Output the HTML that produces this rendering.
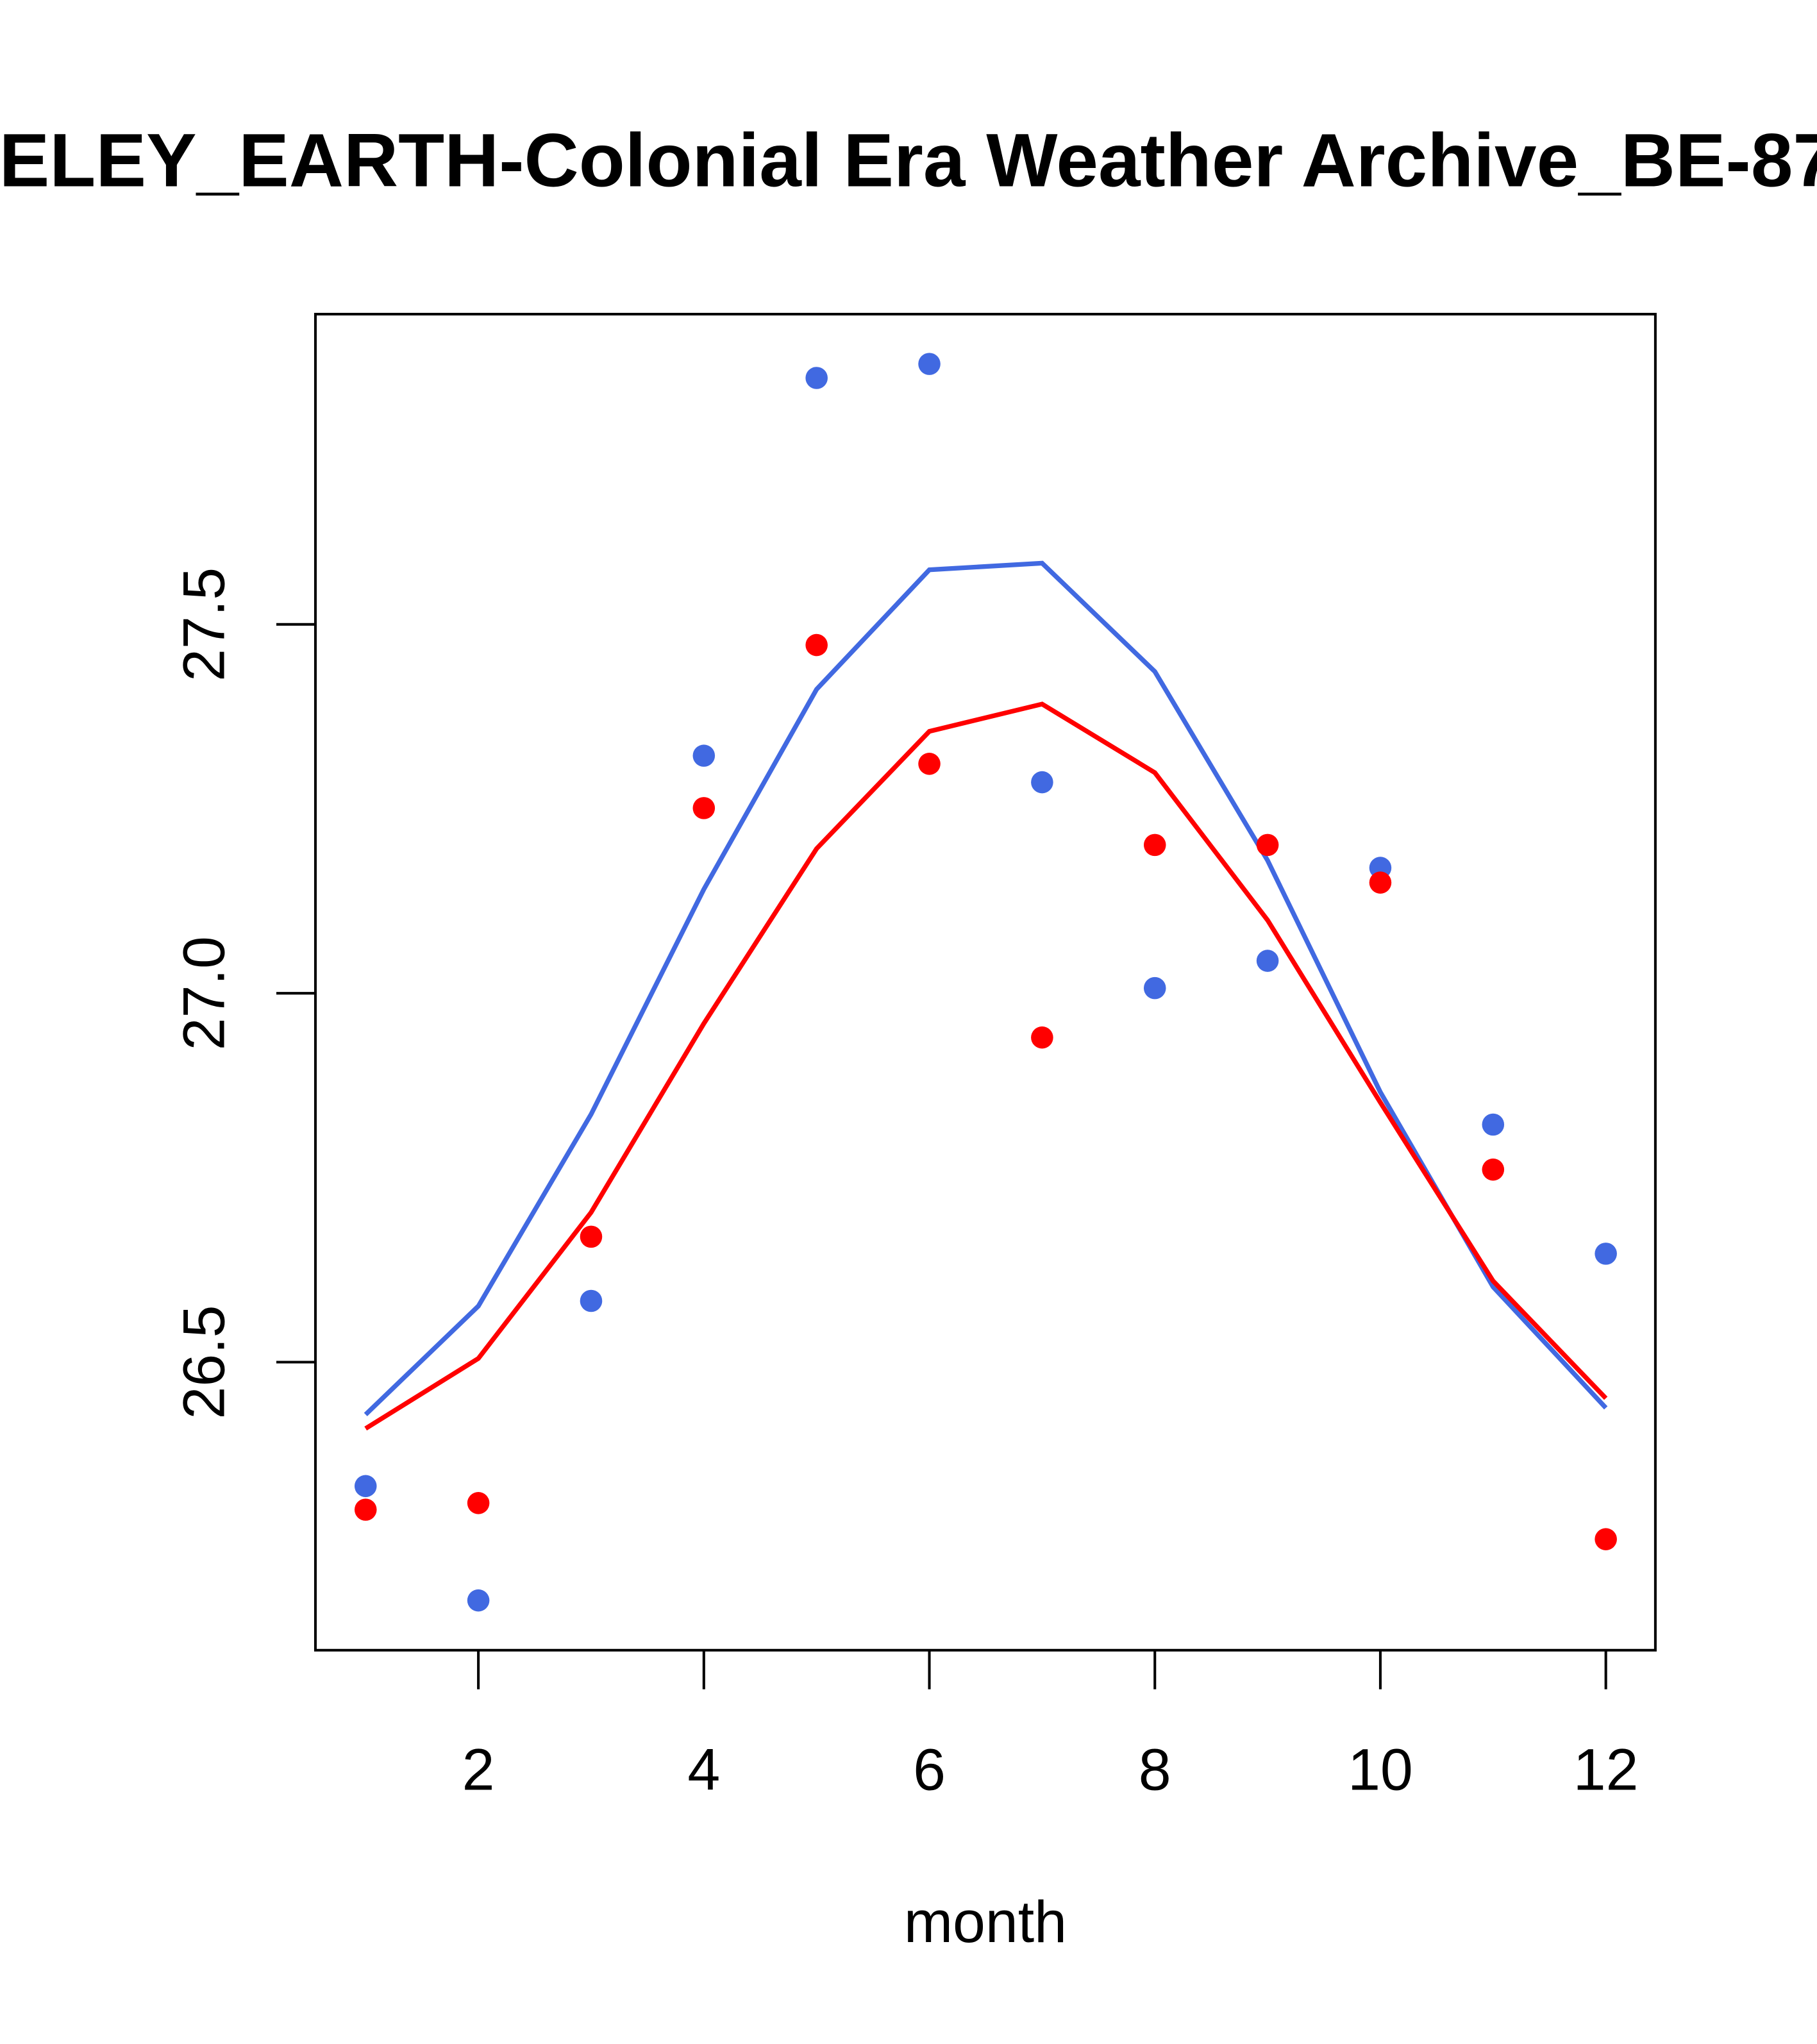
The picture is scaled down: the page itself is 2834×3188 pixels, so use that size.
<!DOCTYPE html>
<html><head><meta charset="utf-8"><style>html,body{margin:0;padding:0;background:#fff}svg{display:block}</style></head>
<body>
<svg width="2834" height="3188" viewBox="0 0 1394 1568.1" xmlns="http://www.w3.org/2000/svg" font-family="Liberation Sans, sans-serif">
<rect width="1394" height="1568.1" fill="#fff"/>
<text x="-165" y="143" text-anchor="start" font-size="58" font-weight="bold">BERKELEY_EARTH-Colonial Era Weather Archive_BE-8765</text>
<rect x="242" y="241" width="1028" height="1025" fill="none" stroke="#000" stroke-width="2"/>
<g id="axes"></g>
<g id="marks"></g>
<text x="756" y="1490" text-anchor="middle" font-size="45">month</text>
<script>
const months=[1,2,3,4,5,6,7,8,9,10,11,12];
const bluePoints=[26.332,26.177,26.583,27.322,27.834,27.853,27.286,27.007,27.044,27.170,26.822,26.647];
const redPoints=[26.300,26.309,26.670,27.251,27.472,27.311,26.940,27.201,27.201,27.150,26.761,26.260];
const blueLine=[26.429,26.576,26.836,27.141,27.412,27.574,27.583,27.436,27.180,26.866,26.602,26.438];
const redLine=[26.410,26.505,26.703,26.959,27.196,27.355,27.392,27.299,27.099,26.852,26.610,26.451];
const xTicks=[2,4,6,8,10,12];
const yTicks=[26.5,27.0,27.5];
const yTickLabels=["26.5","27.0","27.5"];
const X=m=>367+(m-2)*86.5;
const Y=v=>762-(v-27)*566;
const NS="http://www.w3.org/2000/svg";
const axes=document.getElementById('axes'),marks=document.getElementById('marks');
function mk(tag,attrs,parent){const e=document.createElementNS(NS,tag);for(const k in attrs)e.setAttribute(k,attrs[k]);parent.appendChild(e);return e;}
xTicks.forEach(t=>{
 const l=mk('line',{x1:X(t),x2:X(t),y1:1266,y2:1296,stroke:'#000','stroke-width':2},axes);
 
 
 const tx=mk('text',{x:X(t),y:1373,'text-anchor':'middle','font-size':45},axes);
 tx.textContent=String(t);
 
 
});
yTicks.forEach((t,i)=>{
 const l=mk('line',{x1:212,x2:242,y1:Y(t),y2:Y(t),stroke:'#000','stroke-width':2},axes);
 
 
 const tx=mk('text',{x:0,y:0,'text-anchor':'middle','font-size':45,transform:`translate(172,${Y(t)}) rotate(-90)`},axes);
 tx.textContent=yTickLabels[i];
 
 
});
function line(vals,color,name){
 const p=mk('polyline',{points:vals.map((v,i)=>X(months[i])+','+Y(v)).join(' '),fill:'none',stroke:color,'stroke-width':3.6},marks);
 
 
}
function pts(vals,color,name){
 vals.forEach((v,i)=>{
  const c=mk('circle',{cx:X(months[i]),cy:Y(v),r:8.5,fill:color},marks);
  
  
 });
}
line(blueLine,'#4169E1','blue-fit-line');
line(redLine,'#FF0000','red-fit-line');
pts(bluePoints,'#4169E1','blue-point');
pts(redPoints,'#FF0000','red-point');
</script>
</svg>
</body></html>
